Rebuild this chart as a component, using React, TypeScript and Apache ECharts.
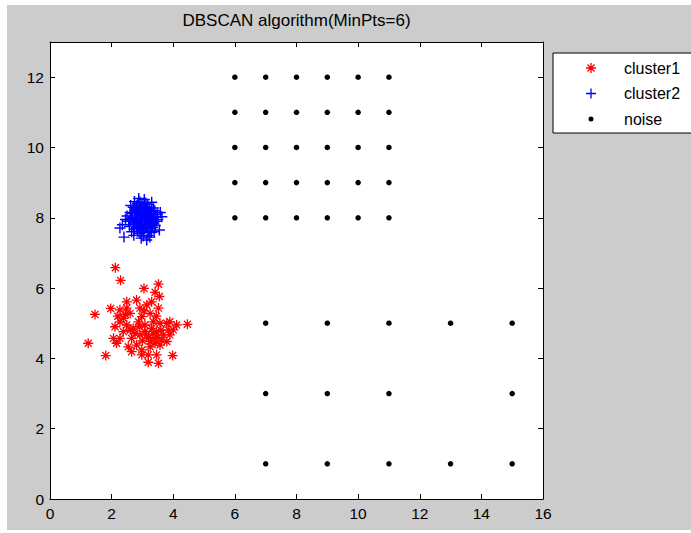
import React, { useEffect, useRef } from "react";
import * as echarts from "echarts";

const chartTitle = "DBSCAN algorithm(MinPts=6)";
const seriesNames = ["cluster1", "cluster2", "noise"];
const xRange = [0, 16];
const yRange = [0, 13];
const tickStep = 2;

const cluster1X = [
  2.12, 2.29, 3.05, 3.52, 3.41, 3.55, 1.46, 1.24, 1.81, 4.46, 3.98, 3.19, 3.52, 1.97,
  2.27, 2.49, 2.81, 3.14, 3.30, 3.52, 3.25, 2.98, 2.27, 2.11, 2.38, 2.70, 2.87, 3.08,
  3.35, 3.57, 3.79, 3.89, 4.11, 3.46, 3.68, 3.14, 2.92, 2.65, 2.27, 2.06, 2.16, 2.54,
  2.81, 2.98, 3.25, 3.41, 3.57, 3.79, 3.89, 3.19, 3.46, 2.98, 2.65, 2.49, 2.60, 2.92,
  3.08, 3.41, 3.62, 3.25, 2.76, 2.49, 2.38, 3.84, 4.00,
  3.00, 3.20, 3.35, 3.50, 3.30, 3.60, 2.90, 2.60, 2.45, 2.20, 3.05, 3.45,
];
const cluster1Y = [
  6.58, 6.22, 5.99, 6.11, 5.88, 5.76, 5.25, 4.43, 4.08, 4.97, 4.08, 3.89, 3.86, 5.42,
  5.38, 5.61, 5.66, 5.52, 5.61, 5.43, 5.28, 5.19, 5.04, 4.90, 4.76, 4.86, 5.04, 4.95,
  5.04, 5.00, 5.00, 5.04, 4.95, 4.76, 4.67, 4.67, 4.67, 4.57, 4.57, 4.57, 4.43, 4.33,
  4.38, 4.24, 4.33, 4.43, 4.38, 4.48, 4.67, 4.10, 4.10, 4.10, 4.19, 5.43, 5.28, 5.43,
  4.76, 4.57, 4.52, 4.48, 4.71, 4.95, 5.14, 4.81, 4.81,
  4.50, 4.60, 4.70, 4.60, 4.85, 4.80, 4.90, 4.80, 5.25, 5.20, 5.35, 5.20,
];

const cluster2X = [
  2.27, 2.40, 2.74, 3.30, 3.63, 3.14, 3.55, 2.55, 2.60, 2.65, 2.70, 2.78, 2.80, 2.82,
  2.85, 2.88, 2.90, 2.92, 2.95, 2.97, 3.00, 3.02, 3.05, 3.07, 3.10, 3.12, 3.15, 3.18,
  3.20, 3.22, 3.25, 3.28, 3.30, 3.35, 3.38, 3.40, 3.45, 3.48, 2.50, 2.58, 2.62, 2.68,
  2.72, 2.76, 2.84, 2.86, 2.93, 2.99, 3.04, 3.08, 3.13, 3.17, 3.23, 3.27, 3.33, 3.42,
  2.45, 2.35, 3.50, 3.58, 2.96, 3.06, 2.88, 3.24,
  2.75, 2.80, 2.85, 2.90, 2.95, 3.00, 3.05, 3.10, 3.15, 3.20, 3.25, 3.30, 2.70, 2.78,
  2.83, 2.88, 2.94, 3.01, 3.09, 3.14, 3.19, 3.26, 3.32, 3.36, 2.66, 2.73, 2.98, 3.11,
  3.21, 3.37, 3.44, 2.62, 2.92, 3.03, 3.29, 2.81,
];
const cluster2Y = [
  7.71, 7.45, 8.46, 8.44, 8.03, 7.37, 7.65, 7.90, 8.15, 7.60, 8.30, 7.85, 8.05, 7.70,
  8.40, 7.95, 8.20, 7.55, 7.80, 8.10, 8.00, 7.65, 8.30, 7.90, 8.15, 7.75, 8.05, 7.50,
  7.95, 8.25, 7.70, 8.10, 7.85, 8.00, 7.60, 8.20, 7.90, 8.10, 8.05, 7.75, 8.35, 7.95,
  7.50, 8.20, 7.62, 8.12, 7.88, 8.36, 7.58, 8.22, 7.98, 8.38, 7.82, 8.02, 7.72, 7.78,
  7.95, 7.80, 7.95, 8.15, 7.42, 8.52, 8.55, 7.45,
  8.00, 7.90, 8.15, 7.75, 8.05, 7.85, 8.10, 7.95, 7.80, 8.10, 7.95, 8.20, 7.80, 8.25,
  7.95, 7.82, 8.28, 8.18, 7.72, 8.28, 7.88, 8.18, 7.98, 8.28, 8.12, 7.68, 7.68, 8.42,
  7.62, 7.85, 8.02, 7.98, 8.45, 7.48, 7.58, 8.34,
];

const noiseX = [
  6, 7, 8, 9, 10, 11,
  6, 7, 8, 9, 10, 11,
  6, 7, 8, 9, 10, 11,
  6, 7, 8, 9, 10, 11,
  6, 7, 8, 9, 10, 11,
  7, 9, 11, 13, 15,
  7, 9, 11, 15,
  7, 9, 11, 13, 15,
];
const noiseY = [
  12, 12, 12, 12, 12, 12,
  11, 11, 11, 11, 11, 11,
  10, 10, 10, 10, 10, 10,
  9, 9, 9, 9, 9, 9,
  8, 8, 8, 8, 8, 8,
  5, 5, 5, 5, 5,
  3, 3, 3, 3,
  1, 1, 1, 1, 1,
];

const FONT = "'Liberation Sans', Arial, Helvetica, sans-serif";

const STAR =
  "path://M4.35,0H5.65V10H4.35Z M0,4.35H10V5.65H0Z M1.95,1.05L8.95,8.05L8.05,8.95L1.05,1.95Z M8.05,1.05L8.95,1.95L1.95,8.95L1.05,8.05Z";
const PLUS = "path://M4.35,0H5.65V10H4.35Z M0,4.35H10V5.65H0Z";
const DOT_ICON =
  "path://M0,0L0,0Z M10,10L10,10Z M2.5,5A2.5,2.5 0 1,0 7.5,5A2.5,2.5 0 1,0 2.5,5Z";

function zip(xs: number[], ys: number[]) {
  return xs.map((x, i) => [x, ys[i]]);
}

function makeXAxis(position: "bottom" | "top", labels: boolean) {
  return {
    type: "value",
    position,
    min: xRange[0],
    max: xRange[1],
    interval: tickStep,
    axisLine: { show: true, onZero: false, lineStyle: { color: "#000", width: 1 } },
    axisTick: { show: true, inside: true, length: 5, lineStyle: { color: "#000", width: 1 } },
    axisLabel: {
      show: labels,
      color: "#000",
      fontSize: 15.5,
      fontFamily: FONT,
      margin: 6,
    },
    splitLine: { show: false },
  };
}

function makeYAxis(position: "left" | "right", labels: boolean) {
  return {
    type: "value",
    position,
    min: yRange[0],
    max: yRange[1],
    interval: tickStep,
    axisLine: { show: true, onZero: false, lineStyle: { color: "#000", width: 1 } },
    axisTick: { show: true, inside: true, length: 5, lineStyle: { color: "#000", width: 1 } },
    axisLabel: {
      show: labels,
      color: "#000",
      fontSize: 15.5,
      fontFamily: FONT,
      margin: 6,
      showMaxLabel: false,
    },
    splitLine: { show: false },
  };
}

export default function App() {
  const ref = useRef<HTMLDivElement>(null);

  useEffect(() => {
    if (!ref.current) return;
    const chart = echarts.init(ref.current, null, { renderer: "svg" });
    chart.setOption({
      animation: false,
      title: {
        text: chartTitle,
        left: 296.5,
        top: 12,
        padding: 0,
        textAlign: "center",
        textStyle: { color: "#000", fontSize: 17, fontWeight: "normal", fontFamily: FONT },
      },
      grid: {
        left: 50,
        top: 42,
        width: 493,
        height: 457,
        show: true,
        backgroundColor: "#fff",
        borderWidth: 0,
      },
      xAxis: [makeXAxis("bottom", true), makeXAxis("top", false)],
      yAxis: [makeYAxis("left", true), makeYAxis("right", false)],
      legend: {
        orient: "vertical",
        left: 553,
        top: 53,
        itemWidth: 56,
        itemHeight: 10,
        itemGap: 9.5,
        padding: [7, 12, 6, 33],
        backgroundColor: "#fff",
        borderColor: "#000",
        borderWidth: 1,
        borderRadius: 0,
        selectedMode: false,
        textStyle: { color: "#000", fontSize: 16, fontFamily: FONT },
        data: [
          { name: seriesNames[0], icon: STAR },
          { name: seriesNames[1], icon: PLUS },
          { name: seriesNames[2], icon: DOT_ICON },
        ],
      },
      series: [
        {
          name: seriesNames[0],
          type: "scatter",
          xAxisIndex: 0,
          yAxisIndex: 0,
          data: zip(cluster1X, cluster1Y),
          symbol: STAR,
          symbolSize: 10,
          itemStyle: { color: "#ff0000", opacity: 1 },
          silent: true,
        },
        {
          name: seriesNames[1],
          type: "scatter",
          xAxisIndex: 0,
          yAxisIndex: 0,
          data: zip(cluster2X, cluster2Y),
          symbol: PLUS,
          symbolSize: 11,
          itemStyle: { color: "#0000ff", opacity: 1 },
          silent: true,
        },
        {
          name: seriesNames[2],
          type: "scatter",
          xAxisIndex: 0,
          yAxisIndex: 0,
          data: zip(noiseX, noiseY),
          symbol: "circle",
          symbolSize: 5.5,
          itemStyle: { color: "#000", opacity: 1 },
          silent: true,
        },
      ],
    });
    return () => chart.dispose();
  }, []);

  return (
    <div style={{ position: "absolute", left: 0, top: 0, width: 691, height: 533, background: "#fff" }}>
      <div
        style={{ position: "absolute", left: 7, top: 5, width: 684, height: 525, background: "#cccccc" }}
      />
      <div ref={ref} style={{ position: "absolute", left: 0, top: 0, width: 691, height: 533 }} />
    </div>
  );
}
